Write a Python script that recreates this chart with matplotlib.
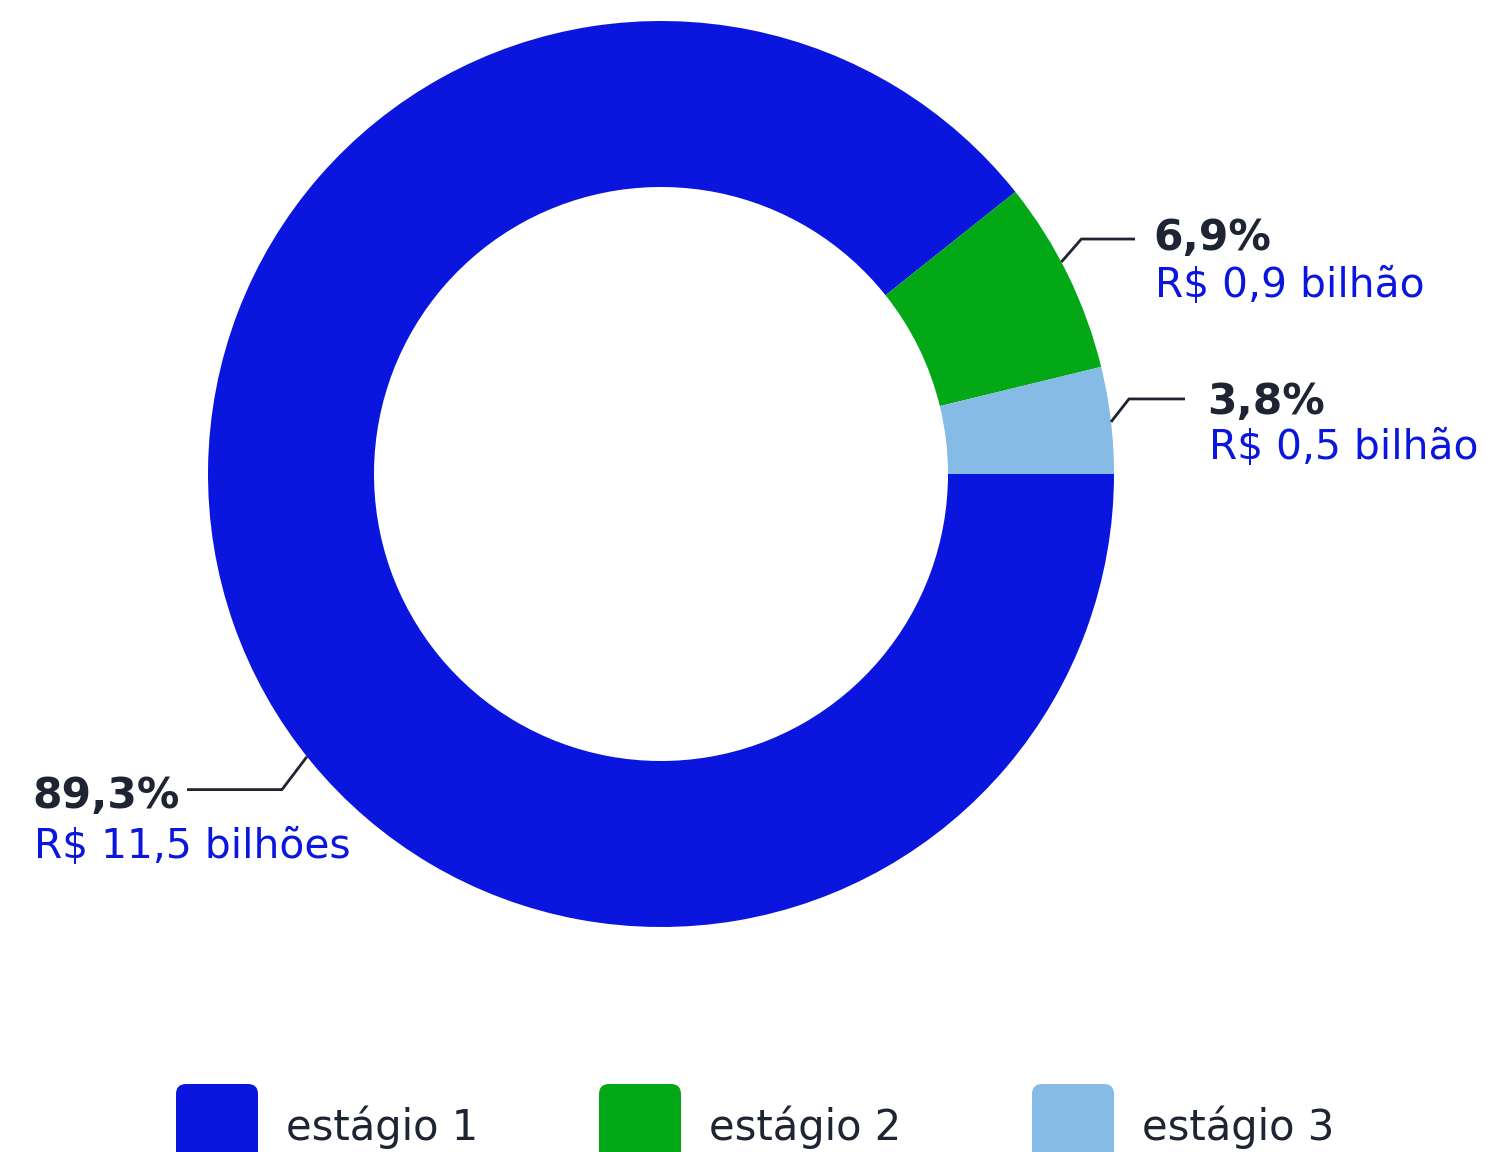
import matplotlib
matplotlib.use("Agg")
import matplotlib.pyplot as plt
from matplotlib.patches import FancyBboxPatch
import numpy as np

# ---- data ----
categories = ["estágio 1", "estágio 2", "estágio 3"]
shares = [89.3, 6.9, 3.8]
pct_labels = ["89,3%", "6,9%", "3,8%"]
value_labels = ["R$ 11,5 bilhões", "R$ 0,9 bilhão", "R$ 0,5 bilhão"]
colors = ["#0A16DD", "#02A816", "#86BBE6"]

W, H = 1500, 1152
plt.rcParams['font.family'] = ['DejaVu Sans']
fig = plt.figure(figsize=(W / 100, H / 100), dpi=100)
ax = fig.add_axes([0, 0, 1, 1])

def Y(ypx):
    return H - ypx

cx, cy, R = 661, Y(474), 453
ax.pie(shares, colors=colors, startangle=0, counterclock=False,
       center=(cx, cy), radius=R, frame=True,
       wedgeprops=dict(width=R - 287, linewidth=0))
ax.set_xlim(0, W)
ax.set_ylim(0, H)
ax.axis("off")

dark = "#1F2433"
blue = "#0A16DD"

# label layout: (anchor angle deg, elbow dx, elbow dy(px up), end x, text x, bold baseline, value baseline)
layout = [
    (218.6, -25, -33, 187, 32, 808, 858),
    (27.9, 20, 23, 1135, 1153, 250, 297),
    (6.6, 18, 23, 1185, 1207, 414, 459),
]
for i, (ang, dx, dy, endx, tx, b1, b2) in enumerate(layout):
    a = np.deg2rad(ang)
    x0, y0 = cx + R * np.cos(a), cy + R * np.sin(a)
    x1, y1 = x0 + dx, y0 + dy
    ax.plot([x0, x1, endx], [y0, y1, y1], color=dark, lw=2, solid_capstyle="butt")
    ax.text(tx, Y(b1), pct_labels[i], color=dark, fontsize=30.5, fontweight="bold",
            ha="left", va="baseline")
    ax.text(tx + 2, Y(b2), value_labels[i], color=blue, fontsize=29.3,
            ha="left", va="baseline")

# legend
leg_x = [176, 599, 1032]
for i, cat in enumerate(categories):
    p = FancyBboxPatch((leg_x[i], Y(1200)), 82, 1200 - 1084,
                       boxstyle="round,pad=0,rounding_size=10",
                       facecolor=colors[i], edgecolor="none")
    ax.add_patch(p)
    ax.text(leg_x[i] + 110, Y(1140), cat, color=dark, fontsize=30,
            ha="left", va="baseline")

fig.savefig("out.png", dpi=100)
